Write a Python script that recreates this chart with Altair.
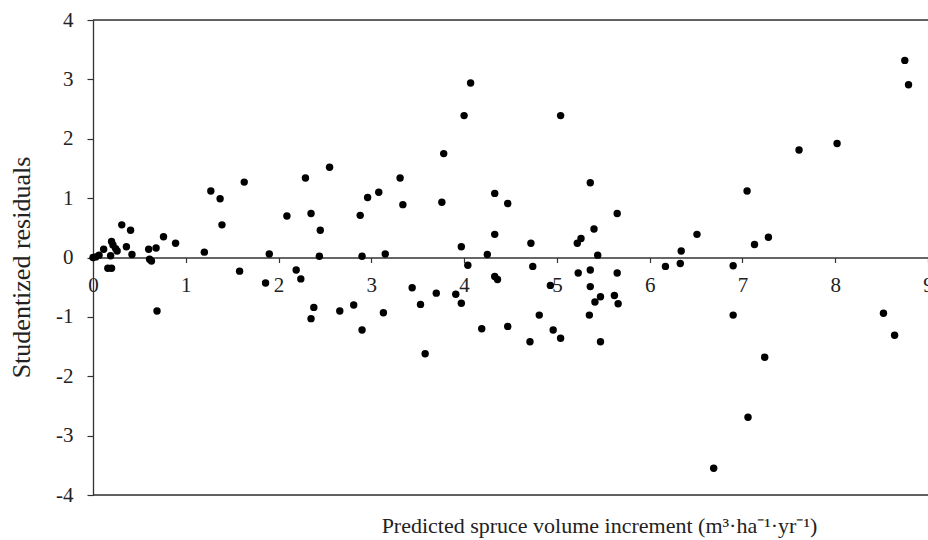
import altair as alt
import pandas as pd

# Predicted spruce volume increment (x) and studentized residuals (y)
pred = [0.00, 0.03, 0.065, 0.115, 0.20, 0.215, 0.244, 0.26, 0.19, 0.16, 0.20,
        0.31, 0.36, 0.405, 0.42, 0.60, 0.61, 0.63, 0.68, 0.69, 0.76, 0.89,
        1.20, 1.27, 1.37, 1.39, 1.58, 1.63, 1.86, 1.90,
        2.09, 2.19, 2.24, 2.29, 2.35, 2.38, 2.35, 2.45, 2.44, 2.55, 2.66, 2.81,
        2.88, 2.90, 2.90, 2.96,
        3.08, 3.13, 3.15, 3.31, 3.34, 3.44, 3.53, 3.58, 3.70, 3.76, 3.78, 3.91,
        3.97, 3.97,
        4.00, 4.04, 4.07, 4.19, 4.25, 4.33, 4.33, 4.33, 4.36, 4.47, 4.47, 4.71,
        4.72, 4.74, 4.81, 4.93, 4.96,
        5.04, 5.04, 5.22, 5.26, 5.23, 5.35, 5.36, 5.36, 5.36, 5.40, 5.41, 5.44,
        5.47, 5.47, 5.62, 5.65, 5.65, 5.66,
        6.17, 6.33, 6.34, 6.51, 6.69, 6.90, 6.90,
        7.05, 7.06, 7.13, 7.24, 7.28, 7.61,
        8.02, 8.52, 8.64, 8.75, 8.79]
resid = [0.00, 0.01, 0.04, 0.14, 0.27, 0.21, 0.15, 0.11, 0.03, -0.18, -0.18,
         0.55, 0.18, 0.46, 0.05, 0.14, -0.03, -0.06, 0.16, -0.90, 0.35, 0.24,
         0.09, 1.12, 0.99, 0.55, -0.23, 1.27, -0.43, 0.06,
         0.70, -0.21, -0.36, 1.34, 0.74, -0.84, -1.03, 0.46, 0.02, 1.52, -0.90, -0.80,
         0.71, 0.02, -1.22, 1.01,
         1.10, -0.93, 0.06, 1.34, 0.89, -0.51, -0.79, -1.62, -0.60, 0.93, 1.75, -0.62,
         0.18, -0.77,
         2.39, -0.13, 2.94, -1.20, 0.05, 1.08, 0.39, -0.32, -0.37, 0.91, -1.16, -1.42,
         0.24, -0.15, -0.97, -0.47, -1.22,
         -1.36, 2.39, 0.24, 0.32, -0.26, -0.97, 1.26, -0.21, -0.49, 0.48, -0.75, 0.04,
         -0.66, -1.42, -0.64, 0.74, -0.26, -0.78,
         -0.15, -0.10, 0.11, 0.39, -3.55, -0.14, -0.97,
         1.12, -2.69, 0.22, -1.68, 0.34, 1.81,
         1.92, -0.94, -1.31, 3.32, 2.91]

x_ticks = [0, 1, 2, 3, 4, 5, 6, 7, 8, 9]
y_ticks = [-4, -3, -2, -1, 0, 1, 2, 3, 4]
frame_y = [4, -4]

x_title = "Predicted spruce volume increment (m\u00b3\u00b7ha\u207b\u00b9\u00b7yr\u207b\u00b9)"
y_title = "Studentized residuals"

df = pd.DataFrame({"x": pred, "y": resid})
frame = pd.DataFrame({"y": frame_y, "x0": [0, 0], "x1": [9, 9]})

FONT = "'Liberation Serif', 'Times New Roman', Times, serif"
LINE = "#333333"

xscale = alt.Scale(domain=[0, 9], nice=False, zero=False)
yscale = alt.Scale(domain=[-4, 4], nice=False)

points = alt.Chart(df).mark_circle(size=55, color="#000000", opacity=1).encode(
    x=alt.X("x:Q", scale=xscale,
            axis=alt.Axis(values=x_ticks, title=x_title, offset=-237.5,
                          grid=False, domainColor=LINE, domainWidth=1.3,
                          tickColor=LINE, tickSize=5, tickWidth=1.2,
                          labelFont=FONT, labelFontSize=21, labelColor="#222222",
                          labelPadding=12, labelFlush=False, labelOverlap=False,
                          labelExpr="'' + datum.value",
                          titleFont=FONT, titleFontSize=22, titleFontWeight="normal",
                          titleColor="#222222", titleX=506, titleY=268,
                          titleBaseline="middle", titleAnchor="middle")),
    y=alt.Y("y:Q", scale=yscale,
            axis=alt.Axis(values=y_ticks, title=y_title, grid=False,
                          domainColor=LINE, domainWidth=1.3,
                          tickColor=LINE, tickSize=6, tickWidth=1.2,
                          labelFont=FONT, labelFontSize=21, labelColor="#222222",
                          labelPadding=14,
                          labelExpr="datum.value < 0 ? '-' + (-datum.value) : '' + datum.value",
                          titleFont=FONT, titleFontSize=26, titleFontWeight="normal",
                          titleColor="#222222", titlePadding=21, titleY=247)),
)

rules = alt.Chart(frame).mark_rule(color=LINE, strokeWidth=1.3).encode(
    y=alt.Y("y:Q", scale=yscale),
    x=alt.X("x0:Q", scale=xscale),
    x2="x1:Q",
)

chart = alt.layer(rules, points).properties(
    width=835, height=475,
    autosize=alt.AutoSizeParams(type="none"),
    padding={"left": 93, "top": 20, "right": 0, "bottom": 45},
).configure_view(stroke=None).configure(background="white")

chart.save("out.html", embed_options={"renderer": "svg", "actions": False})
